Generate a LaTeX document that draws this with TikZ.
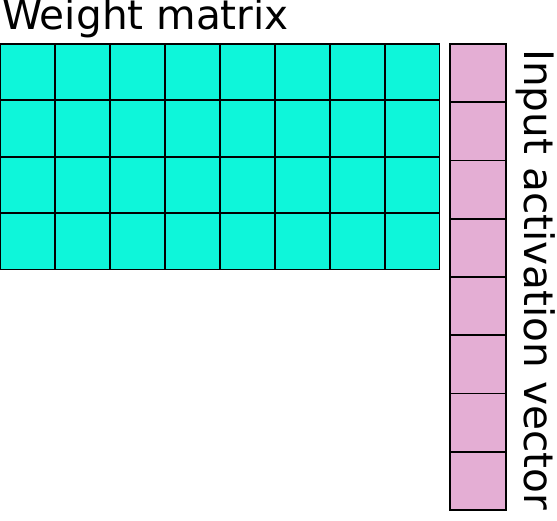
\documentclass[tikz,border=0pt]{standalone}
\usepackage{fontspec}
\setmainfont{DejaVu Sans}
\definecolor{wcyan}{RGB}{14,246,218}
\definecolor{vpink}{RGB}{228,174,212}
\begin{document}
\begin{tikzpicture}[x=1pt,y=-1pt,
  wcell/.style={draw=black,fill=wcyan,line width=1.8pt,minimum width=54.875pt,minimum height=56.375pt,inner sep=0pt,outer sep=0pt,anchor=north west},
  vcell/.style={draw=black,fill=vpink,line width=1.8pt,minimum width=56pt,minimum height=58.25pt,inner sep=0pt,outer sep=0pt,anchor=north west},
  lbl/.style={inner sep=0pt,font=\fontsize{40.6}{40.6}\selectfont}]
\useasboundingbox (0,0) rectangle (557,520);
\foreach \i in {0,...,7}{
  \foreach \j in {0,...,3}{
    \node[wcell] (w-\i-\j) at ({0.5+54.875*\i},{44+56.375*\j}) {};
  }
}
\foreach \j in {0,...,7}{
  \node[vcell] (v-\j) at (450,{44+58.25*\j}) {};
}
\node[lbl,anchor=base west] (wlabel) at (2,29.5) {Weight matrix};
\node[lbl,anchor=base west,rotate=-90] (vlabel) at (524,49) {Input activation vector};
\end{tikzpicture}
\end{document}
